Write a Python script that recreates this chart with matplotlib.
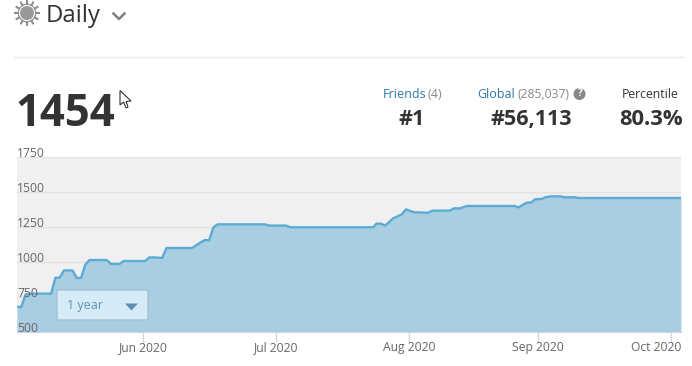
import matplotlib
matplotlib.use("Agg")
import matplotlib.pyplot as plt
from matplotlib.patches import Circle, Polygon, FancyBboxPatch
from matplotlib.transforms import ScaledTranslation
import numpy as np

plt.rcParams['font.family'] = ['Open Sans', 'DejaVu Sans']

# Vertices of the rating line: sample number and rating
sample = [0, 1, 2, 3, 8, 9, 10, 11, 13, 14, 15, 16, 17, 21, 22, 24, 25, 30, 31, 32, 34, 35, 41, 43, 44, 45, 46, 47,
          58, 59, 63, 64, 83.4, 84.2, 85.2, 86.2, 88.1, 90.1, 91.1, 93, 96.3, 97.3, 101.4, 102.3,
          103.7, 105.3, 116.6, 117.4, 119.4, 120.5, 121.3, 122.9, 123.7, 125.2, 127.2, 128.3, 130.7, 131.5, 155.5]
rating = [679, 679, 767, 774, 774, 888, 888, 940, 940, 886, 886, 981, 1014, 1014, 986, 986, 1007, 1007, 1033, 1033, 1029, 1100, 1100, 1140, 1157, 1155, 1248, 1269,
          1269, 1260, 1260, 1248, 1248, 1274, 1274, 1260, 1312, 1340, 1376, 1355, 1352, 1367, 1367, 1383,
          1383, 1400, 1400, 1390, 1424, 1426, 1448, 1450, 1462, 1469, 1469, 1462, 1462, 1457, 1457]
month_pos = [29.6, 60.7, 91.9, 121.9, 153.1]
month_labels = ['Jun 2020', 'Jul 2020', 'Aug 2020', 'Sep 2020', 'Oct 2020']
y_ticks = [500, 750, 1000, 1250, 1500, 1750]

W, H = 692, 366
fig = plt.figure(figsize=(W / 100, H / 100), dpi=100, facecolor='white')
ax = fig.add_axes([17 / W, 1 - 332 / H, (681 - 17) / W, (332 - 157) / H], facecolor='#f0f0f0')
ax.set_xlim(0, 155.5)
ax.set_ylim(500, 1750)

ax.set_yticks(y_ticks)
ax.tick_params(axis='y', length=0, labelleft=False)
ax.grid(axis='y', color='#e2e2e2', lw=1)
ax.set_axisbelow(True)
for s in ['left', 'right', 'top']:
    ax.spines[s].set_visible(False)
ax.spines['bottom'].set_color('#ccd6eb')

ax.fill_between(sample, rating, 500, color='#a3cce1', alpha=0.92, lw=0, zorder=2)
ax.plot(sample, rating, color='#5cabd5', lw=1.7, zorder=3, solid_joinstyle='round')

ax.set_xticks(month_pos)
ax.set_xticklabels(month_labels, fontsize=8.7, color='#666666')
ax.tick_params(axis='x', length=7, width=1, color='#ccd6eb', pad=-0.5)
last = ax.get_xticklabels()[-1]
last.set_transform(last.get_transform() + ScaledTranslation(-14.6 / 100, 0, fig.dpi_scale_trans))

for v in y_ticks:
    ax.annotate(str(v), xy=(0, v), xycoords=('axes fraction', 'data'), xytext=(0, 3.5 * 0.72),
                textcoords='offset points', ha='left', va='center', fontsize=8.7,
                color='#666666', zorder=6, annotation_clip=False)

# Overlay in pixel coordinates for page furniture
ov = fig.add_axes([0, 0, 1, 1], facecolor='none')
ov.set_xlim(0, W)
ov.set_ylim(H, 0)
ov.axis('off')

ov.plot([15, 683], [57, 57], color='#e8e8e8', lw=1)

# sun icon
sun_x, sun_y = 27, 13
for a in np.arange(0, 360, 30):
    r = np.radians(a)
    ov.plot([sun_x + 9 * np.cos(r), sun_x + 12 * np.cos(r)],
            [sun_y + 9 * np.sin(r), sun_y + 12 * np.sin(r)], color='#8e8e8e', lw=1.5)
ov.add_patch(Circle((sun_x, sun_y), 8.8, fc='none', ec='#8e8e8e', lw=0.8))
ov.add_patch(Circle((sun_x, sun_y), 7, fc='#999999', ec='none'))

ov.text(46, 16.5, 'Daily', fontsize=17.2, color='#333333', ha='left', va='center')
ov.plot([113.5, 119, 124.5], [13.5, 19, 13.5], color='#808080', lw=1.8)

ov.text(15, 114, '1454', fontsize=31.5, fontweight='bold', color='#333333', ha='left', va='center')

# cursor
ov.add_patch(Polygon([(120, 90.5), (120, 105), (123.5, 102), (126, 108), (128, 107), (126, 101.5), (131, 101)],
                     closed=True, fc='white', ec='#333333', lw=0.8))

ov.text(383, 94, 'Friends', fontsize=9, color='#2a78a8', ha='left', va='center')
ov.text(428, 94, '(4)', fontsize=9, color='#888888', ha='left', va='center')
ov.text(477, 94, 'Global', fontsize=9, color='#2a78a8', ha='left', va='center')
ov.text(518, 94, '(285,037)', fontsize=8.7, color='#888888', ha='left', va='center')
ov.add_patch(Circle((579.5, 94), 6, fc='#888888', ec='none'))
ov.text(579.5, 94, '?', fontsize=7, fontweight='bold', color='white', ha='center', va='center')
ov.text(650.5, 94, 'Percentile', fontsize=8.8, color='#333333', ha='center', va='center')

ov.text(412, 119.5, '#1', fontsize=15.5, fontweight='bold', color='#333333', ha='center', va='center')
ov.text(531.5, 119.5, '#56,113', fontsize=15.5, fontweight='bold', color='#333333', ha='center', va='center')
ov.text(651, 119.5, '80.3%', fontsize=15.8, fontweight='bold', color='#333333', ha='center', va='center')

# range selector
ov.add_patch(FancyBboxPatch((57, 290), 91, 30, boxstyle='round,pad=0,rounding_size=1.5',
                            fc='#d5ebf5', ec='#a3c1d3', lw=1, zorder=5))
ov.text(67, 305, '1 year', fontsize=9, color='#5f90b0', ha='left', va='center', zorder=6)
ov.add_patch(Polygon([(125, 303.5), (138, 303.5), (131.5, 310.5)], closed=True, fc='#5f8fb0', ec='none', zorder=6))

fig.savefig('out.png', dpi=100)
